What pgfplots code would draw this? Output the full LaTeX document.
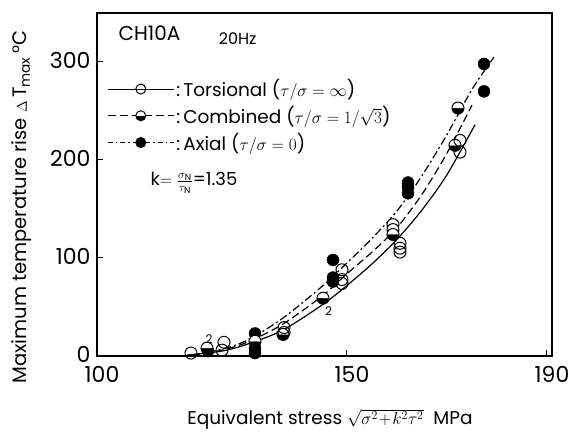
\documentclass[border=0pt]{standalone}
\usepackage{fontspec}
\setmainfont{Poppins}
\usepackage{pgfplots}
\pgfplotsset{compat=1.18}
\usetikzlibrary{plotmarks}
\begin{document}
\begin{tikzpicture}
\path[use as bounding box] (-97bp,-85bp) rectangle (472bp,356bp);
\begin{axis}[
 at={(0,0)}, anchor=south west,
 scale only axis, width=455bp, height=343bp,
 xmin=100, xmax=191, ymin=0, ymax=350,
 xtick={100,150,190}, ytick={0,100,200,300},
 xtick pos=bottom, ytick pos=left, tick align=inside,
 major tick length=6bp,
 tick style={line width=1bp, black},
 /pgf/number format/assume math mode=true,
 ticklabel style={font=\fontsize{22bp}{26bp}\selectfont},
 xticklabel style={xshift=5bp, yshift=-7bp},
 yticklabel style={xshift=-3bp, yshift=2bp},
 axis line style={line width=1.1bp},
 xlabel={Equivalent stress $\sqrt{\sigma^2\!+\!k^2\tau^2}$\ \ MPa},
 ylabel={Maximum temperature rise $\scriptstyle\Delta$\,T$_{\mathrm{max}}$\,°C},
 xlabel style={font=\fontsize{18.5bp}{22bp}\selectfont, at={(axis description cs:0.512,-0.185)}, anchor=center},
 ylabel style={font=\fontsize{19.5bp}{23bp}\selectfont, at={(axis description cs:-0.165,0.434)}, anchor=center},
 legend style={at={(axis description cs:0.02,0.815)}, anchor=north west, draw=none, fill=none,
   font=\fontsize{18.5bp}{22bp}\selectfont, row sep=4bp, inner sep=1bp},
 legend cell align=left,
 legend image code/.code={\draw[mark repeat=2,mark phase=2] plot coordinates {(0bp,0bp) (33bp,0bp) (66bp,0bp)};},
]
\addlegendimage{black, solid, line width=1bp, mark=o, mark size=5bp, mark options={solid, fill=white}}
\addlegendentry{:\,Torsional ($\tau/\sigma=\infty$)}
\addlegendimage{black, line width=1bp, dash pattern=on 8bp off 4bp, mark=halfcircle*, mark size=5bp, mark options={solid, fill=black, rotate=180}}
\addlegendentry{:\,Combined ($\tau/\sigma=1/\sqrt{3}$)}
\addlegendimage{black, line width=1bp, dash pattern=on 5bp off 3bp on 1.5bp off 3bp, mark=*, mark size=5bp, mark options={solid}}
\addlegendentry{:\,Axial ($\tau/\sigma=0$)}

% fitted curves
\addplot[black, line width=1.2bp, smooth, forget plot] coordinates {
(118,1) (125,5) (130,12) (137,26) (145,52) (150,72) (155,94) (160,119) (165,149) (170,185) (175.6,236)};
\addplot[black, line width=1.2bp, smooth, dash pattern=on 8bp off 4bp, forget plot] coordinates {
(119,1) (125,6) (130,14) (137,32) (145,61) (150,84) (155,106) (160,131) (165,165) (170,207) (175,256)};
\addplot[black, line width=1.2bp, smooth, dash pattern=on 8bp off 3bp on 2bp off 3bp, forget plot] coordinates {
(119,1) (125,7) (130,16) (137,38) (145,71) (150,95) (155,120) (160,148) (165,184) (170,226) (175,272) (179.4,305)};

% data points
\addplot[only marks, mark=*, mark size=6bp, black, forget plot] coordinates {
(122.2,5) (131.6,23) (131.6,8) (131.6,3) (147.2,98) (147.2,80) (147.2,76) (162.2,177) (162.2,172) (162.2,166) (177.4,298) (177.4,270)};
\addplot[only marks, mark=halfcircle*, mark size=6bp, black, mark options={fill=black, rotate=180, line width=1bp}, forget plot] coordinates {
(122.0,8) (131.6,15) (137.2,22) (145.2,59) (159.2,134) (159.2,129) (159.2,124) (172.2,253) (171.6,215)};
\addplot[only marks, mark=o, mark size=6bp, black, mark options={fill=white, line width=1bp}, forget plot] coordinates {
(118.8,3) (125.4,14) (125.0,6) (137.4,29) (137.4,24) (149,88) (149,78) (149,74) (160.6,115) (160.6,110) (160.6,106) (172.6,220) (172.6,208)};

\node[anchor=west, font=\fontsize{20bp}{24bp}\selectfont] at (axis description cs:0.04,0.942) {CH10A};
\node[anchor=west, font=\fontsize{16bp}{19bp}\selectfont] at (axis description cs:0.26,0.925) {20Hz};
\node[anchor=west, font=\fontsize{18bp}{21bp}\selectfont] at (axis description cs:0.11,0.504) {k$=\frac{\sigma_{\mathrm{N}}}{\tau_{\mathrm{N}}}$=1.35};
\node[font=\fontsize{12bp}{14bp}\selectfont] at (axis cs:122.4,17) {2};
\node[font=\fontsize{12bp}{14bp}\selectfont] at (axis cs:146.3,46) {2};
\end{axis}
\end{tikzpicture}
\end{document}
